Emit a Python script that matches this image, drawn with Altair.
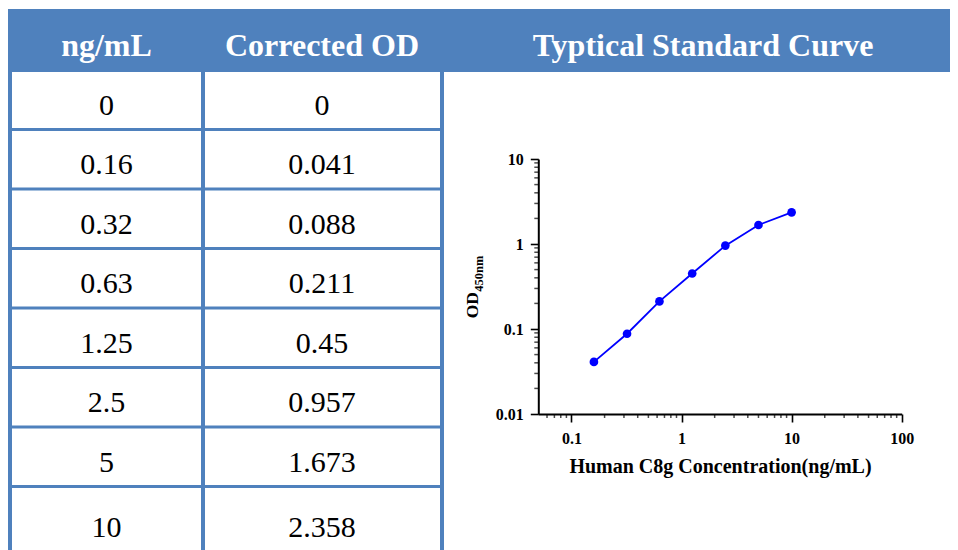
import altair as alt
import pandas as pd

# ---------------- data ----------------
header_labels = ["ng/mL", "Corrected OD", "Typtical Standard Curve"]
conc_labels = ["0", "0.16", "0.32", "0.63", "1.25", "2.5", "5", "10"]
od_labels = ["0", "0.041", "0.088", "0.211", "0.45", "0.957", "1.673", "2.358"]
x_major = [0.1, 1, 10, 100]
y_major = [0.01, 0.1, 1, 10]
x_title = "Human C8g Concentration(ng/mL)"
y_title_main = "OD"
y_title_sub = "450nm"

# ---------------- layout (chart pixels) ----------------
W, H = 942, 542
BLUE = "#4f81bd"
CURVE = "#0000ff"
FONT = "Liberation Serif"
header_top, header_bot = 1, 64
col_borders = [2, 195, 434]
line0, row_step = 121.5, 59.5
table_right = 436
table_bottom = 547
col_centres = [98.5, 314, 695]

# table geometry
rects = [dict(x0=0, x1=W + 8, y0=header_top, y1=header_bot)]
for cx in col_borders:
    rects.append(dict(x0=cx - 2, x1=cx + 2, y0=header_bot, y1=H))
n_rows = len(conc_labels)
for k in range(n_rows - 1):
    yy = line0 + k * row_step
    rects.append(dict(x0=0, x1=table_right, y0=yy - 1.5, y1=yy + 1.5))
rect_df = pd.DataFrame(rects)

head_df = pd.DataFrame({"x": col_centres, "y": [48] * 3, "t": header_labels})

body = []
for k in range(n_rows):
    if k < n_rows - 1:
        base = line0 + (k - 0.5) * row_step + 15
    else:
        base = (line0 + (k - 1) * row_step + table_bottom) / 2 + 16
    body.append(dict(x=col_centres[0], y=base, t=conc_labels[k]))
    body.append(dict(x=col_centres[1], y=base, t=od_labels[k]))
body_df = pd.DataFrame(body)

tx = alt.Scale(domain=[0, W], range=[0, W], nice=False, zero=False)
ty = alt.Scale(domain=[0, H], range=[0, H], nice=False, zero=False)

table_rects = alt.Chart(rect_df).mark_rect(color=BLUE, strokeWidth=0).encode(
    x=alt.X("x0:Q", scale=tx, axis=None), x2="x1:Q",
    y=alt.Y("y0:Q", scale=ty, axis=None), y2="y1:Q",
)
table_head = alt.Chart(head_df).mark_text(
    font=FONT, fontSize=32, fontWeight="bold", color="white", baseline="alphabetic", align="center"
).encode(
    x=alt.X("x:Q", scale=tx, axis=None), y=alt.Y("y:Q", scale=ty, axis=None), text="t:N"
)
table_body = alt.Chart(body_df).mark_text(
    font=FONT, fontSize=30, color="black", baseline="alphabetic", align="center"
).encode(
    x=alt.X("x:Q", scale=tx, axis=None), y=alt.Y("y:Q", scale=ty, axis=None), text="t:N"
)
table = alt.layer(table_rects, table_head, table_body)

# ---------------- curve ----------------
pts = pd.DataFrame({"conc": [float(c) for c in conc_labels],
                    "od": [float(v) for v in od_labels]})
pts = pts[pts["conc"] > 0]

xs = alt.Scale(type="log", domain=[0.05, 100], range=[530.3, 893.7], nice=False)
ys = alt.Scale(type="log", domain=[0.01, 10], range=[406, 151], nice=False)

x_axis = alt.Axis(
    values=x_major, format="~g", orient="bottom", offset=-(H - 406),
    tickSize=8, tickWidth=1.6, tickColor="black", domainColor="black", domainWidth=2,
    labelFont=FONT, labelFontWeight="bold", labelFontSize=16, labelColor="black",
    labelPadding=8, labelFlush=False, labelOverlap=False, grid=False,
    title=x_title, titleFont=FONT, titleFontWeight="bold", titleFontSize=20,
    titleColor="black", titlePadding=10,
)
y_axis = alt.Axis(
    values=y_major, format="~g", orient="left", offset=-530.3,
    tickSize=8, tickWidth=1.6, tickColor="black", domainColor="black", domainWidth=2,
    labelFont=FONT, labelFontWeight="bold", labelFontSize=16, labelColor="black",
    labelPadding=7, labelFlush=False, labelOverlap=False, grid=False, title=None,
)

x_minor = [m * d for d in [0.01, 0.1, 1, 10] for m in range(2, 10) if 0.05 < m * d < 100]
y_minor = [m * d for d in [0.01, 0.1, 1] for m in range(2, 10)]

line = alt.Chart(pts).mark_line(color=CURVE, strokeWidth=1.8).encode(
    x=alt.X("conc:Q", scale=xs, axis=x_axis), y=alt.Y("od:Q", scale=ys, axis=y_axis)
)
dots = alt.Chart(pts).mark_circle(color=CURVE, size=75, opacity=1).encode(
    x=alt.X("conc:Q", scale=xs, axis=x_axis), y=alt.Y("od:Q", scale=ys, axis=y_axis)
)
xmin = alt.Chart(pd.DataFrame({"conc": x_minor})).mark_tick(
    orient="vertical", size=4, thickness=1.5, color="black", yOffset=2
).encode(
    x=alt.X("conc:Q", scale=xs, axis=x_axis),
    y=alt.YDatum(0.01, type="quantitative", scale=ys, axis=y_axis),
)
ymin = alt.Chart(pd.DataFrame({"od": y_minor})).mark_tick(
    orient="horizontal", size=4, thickness=1.5, color="black", xOffset=-2
).encode(
    x=alt.XDatum(0.05, type="quantitative", scale=xs, axis=x_axis),
    y=alt.Y("od:Q", scale=ys, axis=y_axis),
)
ytitle_main = alt.Chart(pd.DataFrame({"t": [y_title_main]})).mark_text(
    font=FONT, fontSize=17.5, fontWeight="bold", color="black", angle=270,
    align="left", baseline="alphabetic"
).encode(x=alt.value(470.3), y=alt.value(310.3), text="t:N")
ytitle_sub = alt.Chart(pd.DataFrame({"t": [y_title_sub]})).mark_text(
    font=FONT, fontSize=12.5, fontWeight="bold", color="black", angle=270,
    align="left", baseline="alphabetic"
).encode(x=alt.value(475), y=alt.value(283.7), text="t:N")

curve = alt.layer(line, dots, xmin, ymin)

chart = alt.layer(table, curve, ytitle_main, ytitle_sub).resolve_scale(
    x="independent", y="independent"
).properties(
    width=W, height=H, autosize=alt.AutoSizeParams(type="none"), padding=0,
    background="white",
).configure_view(stroke=None)

chart.save("out.html", embed_options={"renderer": "svg", "actions": False})
